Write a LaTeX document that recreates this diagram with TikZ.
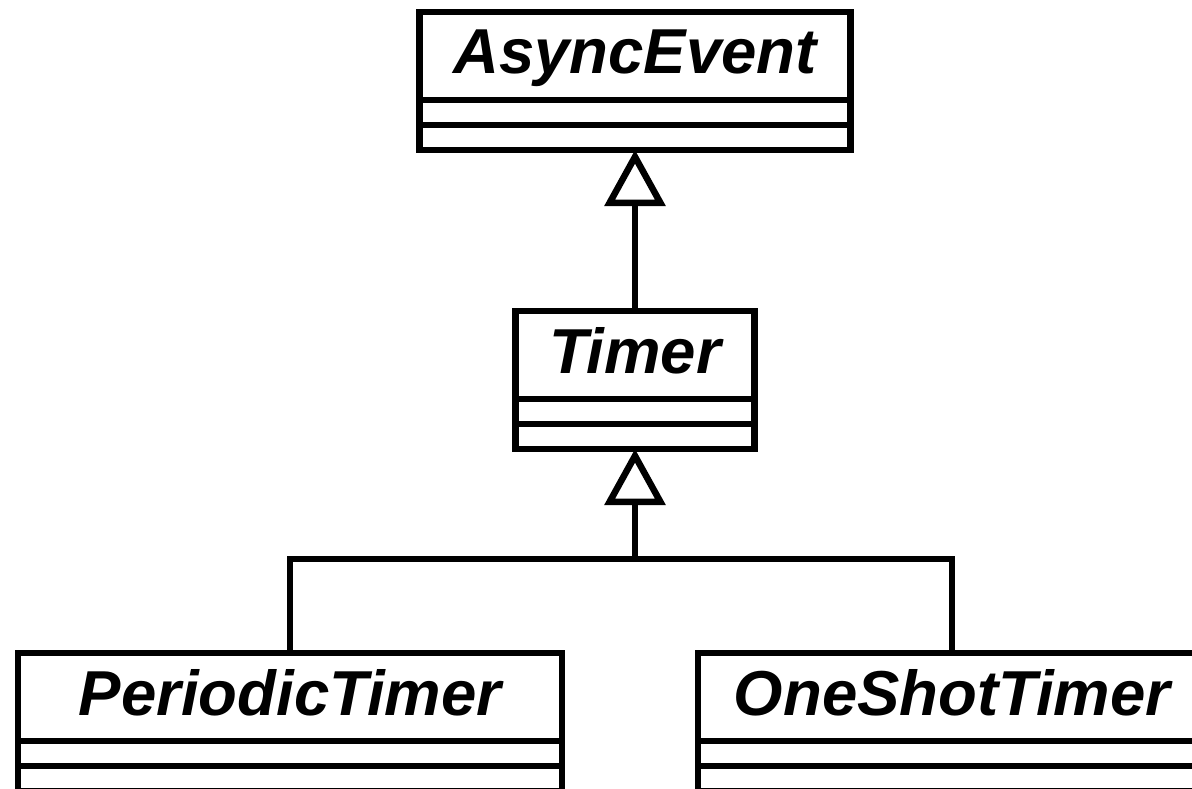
\documentclass[tikz,border=0pt]{standalone}
\usepackage{fontspec}
\setmainfont{Liberation Sans}
\usetikzlibrary{positioning,arrows.meta}
\begin{document}
\begin{tikzpicture}[x=1pt,y=-1pt,
   classname/.style={draw,line width=6.5pt,outer sep=0pt,inner sep=0pt,
      minimum width=#1,minimum height=88pt,text height=46pt,text depth=10pt,
      font=\fontsize{63.5}{70}\selectfont\bfseries\itshape},
   compart/.style={draw,line width=6.5pt,outer sep=0pt,inner sep=0pt,
      minimum width=#1,minimum height=25pt},
   inherit/.style={line width=6.5pt,-{Triangle[open,length=56pt,width=60pt]}}]
   \useasboundingbox (0,0) rectangle (1192,789);
   \node[classname=431pt] (async) at (635,56) {AsyncEvent};
   \node[compart=431pt,below=0pt of async] (asyncattr) {};
   \node[compart=431pt,below=0pt of asyncattr] (asyncops) {};
   \node[classname=239pt] (timer) at (635,355) {Timer};
   \node[compart=239pt,below=0pt of timer] (timerattr) {};
   \node[compart=239pt,below=0pt of timerattr] (timerops) {};
   \node[classname=544pt] (periodic) at (290,697) {PeriodicTimer};
   \node[compart=544pt,below=0pt of periodic] (periodicattr) {};
   \node[compart=544pt,below=0pt of periodicattr] (periodicops) {};
   \node[classname=508pt] (oneshot) at (952,697) {OneShotTimer};
   \node[compart=508pt,below=0pt of oneshot] (oneshotattr) {};
   \node[compart=508pt,below=0pt of oneshotattr] (oneshotops) {};
   \coordinate (fork) at (635,559);
   \draw[inherit] (timer.north) -- (asyncops.south);
   \draw[inherit] (fork) -- (timerops.south);
   \draw[line width=6.5pt] (periodic.north) |- (fork) -| (oneshot.north);
\end{tikzpicture}
\end{document}
